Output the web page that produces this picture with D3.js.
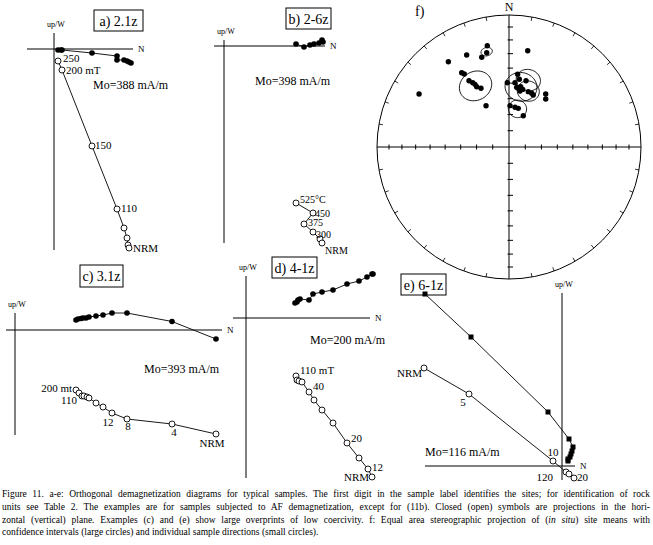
<!DOCTYPE html>
<html>
<head>
<meta charset="utf-8">
<script src="https://cdn.jsdelivr.net/npm/d3@7"></script>
<style>
  body { margin: 0; background: #fff; }
  svg { display: block; }
  text { font-family: "Liberation Serif", "Times New Roman", "DejaVu Serif", serif; fill: #000; }
</style>
</head>
<body>
<svg id="fig" width="653" height="545"></svg>
<script>
// ---- data: orthogonal plots, [N, W/up] in plot units ----
// a) 2.1z
var aHoriz = [[8,-2],[14,-2],[16,-2],[76,-8],[126,-14],[126,-22],[140,-22],[146,-24],[150,-26],[154,-28]];
var aVert = [[8,-24],[16,-42],[76,-194],[126,-320],[140,-358],[146,-378],[148,-392],[150,-398]];
var aSteps = ['250','200 mT','150','110','','','','NRM'];
// b) 2-6z
var bHoriz = [[144,4],[160,-2],[172,2],[180,4],[190,6],[196,12],[198,8]];
var bVert = [[144,-314],[178,-334],[160,-356],[178,-372],[192,-386],[196,-394]];
var bSteps = ['525\u00b0C','450','375','300','','NRM'];
// c) 3.1z
var cHoriz = [[122,20],[126,22],[132,23],[136,24],[142,24],[148,26],[162,28],[176,30],[194,34],[224,34],[314,17],[402,-18]];
var cVert = [[122,-120],[128,-126],[134,-132],[138,-132],[144,-134],[148,-136],[162,-146],[176,-154],[194,-166],[224,-178],[314,-188],[402,-208]];
var cSteps = ['200 mt','110','','','','','','','12','8','4','NRM'];
// d) 4-1z
var dHoriz = [[98,30],[102,32],[104,36],[108,38],[126,36],[134,48],[152,52],[174,56],[202,68],[226,74],[242,82],[252,88],[254,88]];
var dVert = [[100,-116],[102,-124],[106,-126],[112,-128],[126,-148],[136,-164],[152,-184],[174,-210],[202,-250],[226,-280],[244,-302],[252,-318]];
var dSteps = ['110 mT','','','40','','','','','20','','12','NRM'];
// e) 6-1z
var eHoriz = [[-274,344],[-182,258],[-28,108],[14,54],[22,38],[20,30],[18,24],[16,18],[12,14],[12,10]];
var eVert = [[-276,196],[-186,144],[-18,10],[8,-12],[14,-16],[24,-24]];
var eSteps = ['NRM','5','10','120','','20'];

// ---- data: f) equal area net ----
var sampleDec = [347.9,346.7,335.3,343.1,324.6,11.0,327.5,328.5,328.9,330.6,331.5,331.8,334.5,300.5,330.9,358.5,6.8,5.3,8.7,14.4,11.0,9.0,13.4,19.2,22.9,25.0,34.7,37.4,1.4,8.6,13.5,24.6,7.3,11.1];
var sampleInc = [22.6,27.5,24.3,29.7,21.8,26.6,33.7,35.4,41.0,43.4,45.1,47.0,49.2,22.0,60.7,49.7,43.8,49.5,46.9,47.0,51.6,52.9,53.0,53.4,53.6,54.2,49.6,52.2,64.4,65.1,65.4,68.8,52.4,54.4];
var siteDec = [346.8,331.3,11.3,16.1,19.0,12.5];
var siteInc = [26.7,46.0,51.5,46.1,53.0,65.8];
var siteA95 = [3.0,9.5,9.3,7.0,6.5,5.5];

var svg = d3.select('#fig');
var rad = Math.PI / 180;

function drawZij(p) {
  // 100 plot units = 50 px
  var x = d3.scaleLinear().domain([0, 100]).range([p.x0, p.x0 + 50]);
  var y = d3.scaleLinear().domain([0, 100]).range([p.y0, p.y0 - 50]);
  var g = svg.append('g');
  g.append('line').attr('x1', x(p.nExt[0])).attr('x2', x(p.nExt[1])).attr('y1', y(0)).attr('y2', y(0))
    .attr('stroke', '#000').attr('stroke-width', 1);
  g.append('line').attr('x1', x(0)).attr('x2', x(0)).attr('y1', y(p.uExt[1])).attr('y2', y(p.uExt[0]))
    .attr('stroke', '#000').attr('stroke-width', 1);
  g.append('text').attr('x', x(p.nExt[1]) + 5).attr('y', y(0) + 3).attr('font-size', 9).text('N');
  g.append('text').attr('x', x(0) + 2).attr('y', y(p.uExt[1]) - 6).attr('text-anchor', 'middle')
    .attr('font-size', 8).text('up/W');

  var line = d3.line().x(function (d) { return x(d[0]); }).y(function (d) { return y(d[1]); });
  g.append('path').attr('d', line(p.horiz)).attr('fill', 'none').attr('stroke', '#000').attr('stroke-width', 0.9);
  g.append('path').attr('d', line(p.vert)).attr('fill', 'none').attr('stroke', '#000').attr('stroke-width', 0.9);

  if (p.square) {
    g.selectAll('rect.h').data(p.horiz).enter().append('rect')
      .attr('x', function (d) { return x(d[0]) - 2.5; }).attr('y', function (d) { return y(d[1]) - 2.5; })
      .attr('width', 5).attr('height', 5).attr('fill', '#000');
  } else {
    g.selectAll('circle.h').data(p.horiz).enter().append('circle')
      .attr('cx', function (d) { return x(d[0]); }).attr('cy', function (d) { return y(d[1]); })
      .attr('r', 2.8).attr('fill', '#000');
  }
  g.selectAll('circle.v').data(p.vert).enter().append('circle')
    .attr('cx', function (d) { return x(d[0]); }).attr('cy', function (d) { return y(d[1]); })
    .attr('r', 3).attr('fill', '#fff').attr('stroke', '#000').attr('stroke-width', 0.9);

  p.steps.forEach(function (s, i) {
    if (!s) return;
    var o = p.offs[s] || [4, 4, 'start'];
    g.append('text').attr('x', x(p.vert[i][0]) + o[0]).attr('y', y(p.vert[i][1]) + o[1])
      .attr('text-anchor', o[2] || 'start').attr('font-size', p.stepSize || 11).text(s);
  });

  g.append('text').attr('x', p.mo[0]).attr('y', p.mo[1]).attr('font-size', 12).text(p.moText);
  var b = p.box;
  g.append('rect').attr('x', b[0]).attr('y', b[1]).attr('width', b[2]).attr('height', b[3])
    .attr('fill', 'none').attr('stroke', '#000').attr('stroke-width', 1);
  g.append('text').attr('x', b[0] + b[2] / 2).attr('y', b[1] + b[3] / 2 + 5).attr('text-anchor', 'middle')
    .attr('font-size', 14).text(p.title);
}

drawZij({ x0: 54, y0: 49, nExt: [-54, 158], uExt: [-402, 32], horiz: aHoriz, vert: aVert, steps: aSteps,
  offs: { '250': [5, 1], '200 mT': [4, 4], '150': [3, 3], '110': [4, 3], 'NRM': [4, 4] },
  mo: [93, 89], moText: 'Mo=388 mA/m', box: [94, 10, 49, 21], title: 'a) 2.1z' });
drawZij({ x0: 224, y0: 46, nExt: [-20, 202], uExt: [-394, 12], horiz: bHoriz, vert: bVert, steps: bSteps, stepSize: 10,
  offs: { '525\u00b0C': [4, 0], '450': [2, 4], '375': [4, 2], '300': [3, 6], 'NRM': [3, 11] },
  mo: [255, 85], moText: 'Mo=398 mA/m', box: [286, 8, 45, 21], title: 'b) 2-6z' });
drawZij({ x0: 15, y0: 330, nExt: [-18, 414], uExt: [-210, 34], horiz: cHoriz, vert: cVert, steps: cSteps,
  offs: { '200 mt': [-4, 2, 'end'], '110': [-2, 11, 'end'], '12': [-4, 13, 'middle'], '8': [1, 11, 'middle'],
    '4': [2, 12, 'middle'], 'NRM': [-4, 13, 'middle'] },
  mo: [144, 373], moText: 'Mo=393 mA/m', box: [80, 265, 43, 22], title: 'c) 3.1z' });
drawZij({ x0: 246, y0: 318, nExt: [-26, 248], uExt: [-320, 84], horiz: dHoriz, vert: dVert, steps: dSteps,
  offs: { '110 mT': [4, -2], '40': [11, 8], '20': [4, -1], '12': [4, 2], 'NRM': [-3, 4, 'end'] },
  mo: [310, 344], moText: 'Mo=200 mA/m', box: [272, 257, 45, 21], title: 'd) 4-1z' });
drawZij({ x0: 562, y0: 466, nExt: [-274, 26], uExt: [-28, 346], horiz: eHoriz, vert: eVert, steps: eSteps, square: true,
  offs: { 'NRM': [-2, 9, 'end'], '5': [-6, 12, 'middle'], '10': [0, -5, 'middle'], '120': [-13, 9, 'end'], '20': [3, 3] },
  mo: [425, 456], moText: 'Mo=116 mA/m', box: [401, 274, 45, 21], title: 'e) 6-1z' });

// ---- f) equal area projection ----
var cx = 509, cy = 147, R = 132;
var rScale = d3.scaleLinear().domain([0, 1]).range([0, R]);
function proj(dec, inc) {
  var r = rScale(Math.SQRT2 * Math.sin((90 - Math.abs(inc)) / 2 * rad));
  return [cx + r * Math.sin(dec * rad), cy - r * Math.cos(dec * rad)];
}
var f = svg.append('g');
f.append('circle').attr('cx', cx).attr('cy', cy).attr('r', R).attr('fill', 'none').attr('stroke', '#000').attr('stroke-width', 1);
var pN = proj(0, 0), pS = proj(180, 0), pE = proj(90, 0), pW = proj(270, 0);
f.append('line').attr('x1', pN[0]).attr('y1', pN[1]).attr('x2', pS[0]).attr('y2', pS[1]).attr('stroke', '#000');
f.append('line').attr('x1', pW[0]).attr('y1', pW[1]).attr('x2', pE[0]).attr('y2', pE[1]).attr('stroke', '#000');
d3.range(10, 90, 10).forEach(function (inc) {
  [0, 180].forEach(function (dec) {
    var p = proj(dec, inc);
    f.append('line').attr('x1', p[0] - 1.5).attr('x2', p[0] + 4).attr('y1', p[1]).attr('y2', p[1]).attr('stroke', '#000');
  });
  [90, 270].forEach(function (dec) {
    var p = proj(dec, inc);
    f.append('line').attr('x1', p[0]).attr('x2', p[0]).attr('y1', p[1] - 2.5).attr('y2', p[1] + 2.5).attr('stroke', '#000');
  });
});
d3.range(10, 360, 10).filter(function (d) { return d % 90 !== 0; }).forEach(function (dec) {
  var a = proj(dec, 0), b = [cx + (R - 4) * Math.sin(dec * rad), cy - (R - 4) * Math.cos(dec * rad)];
  f.append('line').attr('x1', a[0]).attr('y1', a[1]).attr('x2', b[0]).attr('y2', b[1]).attr('stroke', '#000').attr('stroke-width', 0.8);
});
f.append('text').attr('x', cx).attr('y', pN[1] - 4).attr('text-anchor', 'middle').attr('font-size', 12).text('N');
f.append('text').attr('x', 415).attr('y', 16).attr('font-size', 14).text('f)');

function smallCircle(dec, inc, a) {
  var d = dec * rad, i = inc * rad, al = a * rad;
  var m = [Math.cos(i) * Math.cos(d), Math.cos(i) * Math.sin(d), Math.sin(i)];
  var u = [Math.sin(i) * Math.cos(d), Math.sin(i) * Math.sin(d), -Math.cos(i)];
  var v = [-Math.sin(d), Math.cos(d), 0];
  return d3.range(0, 360, 6).map(function (t) {
    var ct = Math.cos(t * rad), st = Math.sin(t * rad);
    var q = [0, 1, 2].map(function (k) { return Math.cos(al) * m[k] + Math.sin(al) * (ct * u[k] + st * v[k]); });
    return proj(Math.atan2(q[1], q[0]) / rad, Math.asin(q[2]) / rad);
  });
}
var ring = d3.line().curve(d3.curveLinearClosed);
siteDec.forEach(function (d, i) {
  f.append('path').attr('d', ring(smallCircle(d, siteInc[i], siteA95[i])))
    .attr('fill', 'none').attr('stroke', '#000').attr('stroke-width', 0.9);
});
f.selectAll('circle.s').data(sampleDec).enter().append('circle')
  .attr('cx', function (d, i) { return proj(d, sampleInc[i])[0]; })
  .attr('cy', function (d, i) { return proj(d, sampleInc[i])[1]; })
  .attr('r', 2.7).attr('fill', '#000');

// ---- caption ----
var capLines = [
  [['Figure 11. a-e: Orthogonal demagnetization diagrams for typical samples. The first digit in the sample label identifies the sites; for identification of rock', false]],
  [['units see Table 2. The examples are for samples subjected to AF demagnetization, except for (11b). Closed (open) symbols are projections in the hori-', false]],
  [['zontal (vertical) plane. Examples (c) and (e) show large overprints of low coercivity. f: Equal area stereographic projection of (', false], ['in situ', true], [') site means with', false]],
  [['confidence intervals (large circles) and individual sample directions (small circles).', false]]
];
capLines.forEach(function (parts, li) {
  var t = svg.append('text').attr('x', 2).attr('y', 497 + li * 12.8).attr('font-size', 9.5);
  parts.forEach(function (p) {
    t.append('tspan').attr('font-style', p[1] ? 'italic' : 'normal').text(p[0]);
  });
  if (li < 3) {
    var w = t.node().getComputedTextLength();
    var spaces = parts.map(function (p) { return p[0]; }).join('').split(' ').length - 1;
    t.attr('word-spacing', (648 - w) / spaces);
  }
});
</script>
</body>
</html>
